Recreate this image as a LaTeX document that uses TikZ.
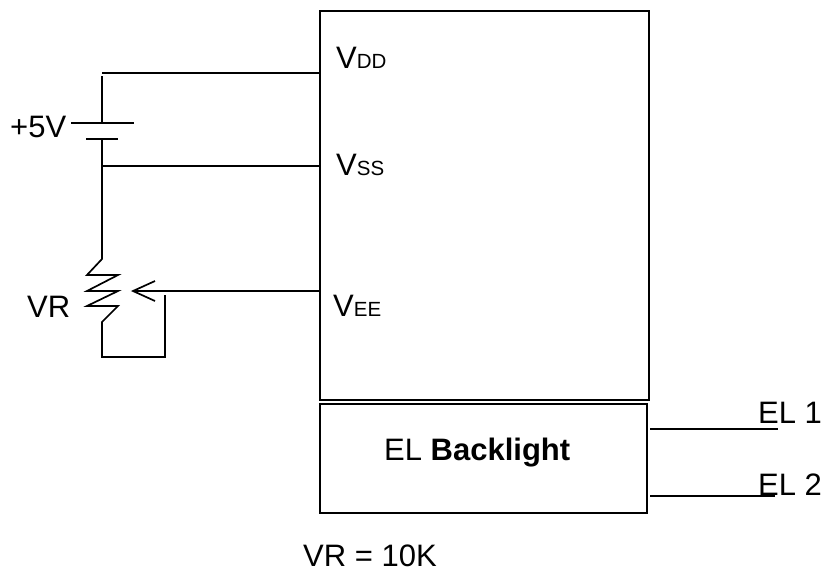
\documentclass[tikz,border=0pt]{standalone}
\usepackage{fontspec}
\setmainfont{Liberation Sans}
\begin{document}
\begin{tikzpicture}[x=1pt,y=-1pt]
        % Define styles
        \tikzset{
            label/.style={anchor=base west, inner sep=0pt, font=\fontsize{31}{34}\selectfont},
            block/.style={rectangle, draw, line width=1.7pt, anchor=north west, inner sep=0pt, outer sep=0pt},
            wire/.style={line width=1.7pt, line join=miter}
        }
        \newcommand{\subpin}[2]{#1{\fontsize{20.5}{24}\selectfont #2}}
        \useasboundingbox (0,0) rectangle (823,571);

        % Blocks
        \node[block, minimum width=329pt, minimum height=389pt] (lcd_block) at (320,11) {};
        \node[block, minimum width=327pt, minimum height=109pt] (el_block) at (320,404) {};

        % Labels
        \node[label] (vdd_label) at (336,68) {\subpin{V}{DD}};
        \node[label] (vss_label) at (336,175) {\subpin{V}{SS}};
        \node[label] (vee_label) at (333,316) {\subpin{V}{EE}};
        \node[label] (five_label) at (10,137) {+5V};
        \node[label] (vr_label) at (27,317) {VR};
        \node[label] (el_label) at (384,460) {EL \textbf{Backlight}};
        \node[label] (el1_label) at (758,423) {EL 1};
        \node[label] (el2_label) at (758,495) {EL 2};
        \node[label] (vr_value) at (303,566) {VR = 10K};

        % Wire points
        \coordinate (vdd_pin) at (320,73);
        \coordinate (vdd_corner) at (102,73);
        \coordinate (batt_top) at (102,76);
        \coordinate (vss_pin) at (320,166);
        \coordinate (vss_tee) at (102,166);
        \coordinate (vee_pin) at (320,291);
        \coordinate (wiper_tip) at (133,291);
        \coordinate (wiper_tee) at (165,295);
        \coordinate (plate_top) at (102,123);
        \coordinate (plate_low) at (102,139);
        \coordinate (plate_top_l) at (71,123);
        \coordinate (plate_top_r) at (134,123);
        \coordinate (plate_low_l) at (86,139);
        \coordinate (plate_low_r) at (118,139);
        \coordinate (res_top) at (102,259);
        \coordinate (res_low) at (102,322);
        \coordinate (loop_left) at (102,357);
        \coordinate (loop_right) at (165,357);
        \coordinate (head_up) at (155,281);
        \coordinate (head_dn) at (155,301);
        \coordinate (el1_start) at (650,429);
        \coordinate (el1_end) at (778,429);
        \coordinate (el2_start) at (650,496);
        \coordinate (el2_end) at (775,496);

        % Wires
        \draw[wire] (vdd_corner) -- (vdd_pin);
        \draw[wire] (batt_top) -- (plate_top);
        \draw[wire] (plate_top_l) -- (plate_top_r);
        \draw[wire] (plate_low_l) -- (plate_low_r);
        \draw[wire] (plate_low) -- (res_top) -- (87,275) -- (118,275) -- (87,291) -- (118,291) -- (87,306) -- (118,306) -- (res_low) -- (loop_left) -- (loop_right) -- (wiper_tee);
        \draw[wire] (vss_tee) -- (vss_pin);
        \draw[wire] (wiper_tip) -- (vee_pin);
        \draw[wire] (head_up) -- (wiper_tip) -- (head_dn);
        \draw[wire] (el1_start) -- (el1_end);
        \draw[wire] (el2_start) -- (el2_end);
    \end{tikzpicture}
\end{document}
